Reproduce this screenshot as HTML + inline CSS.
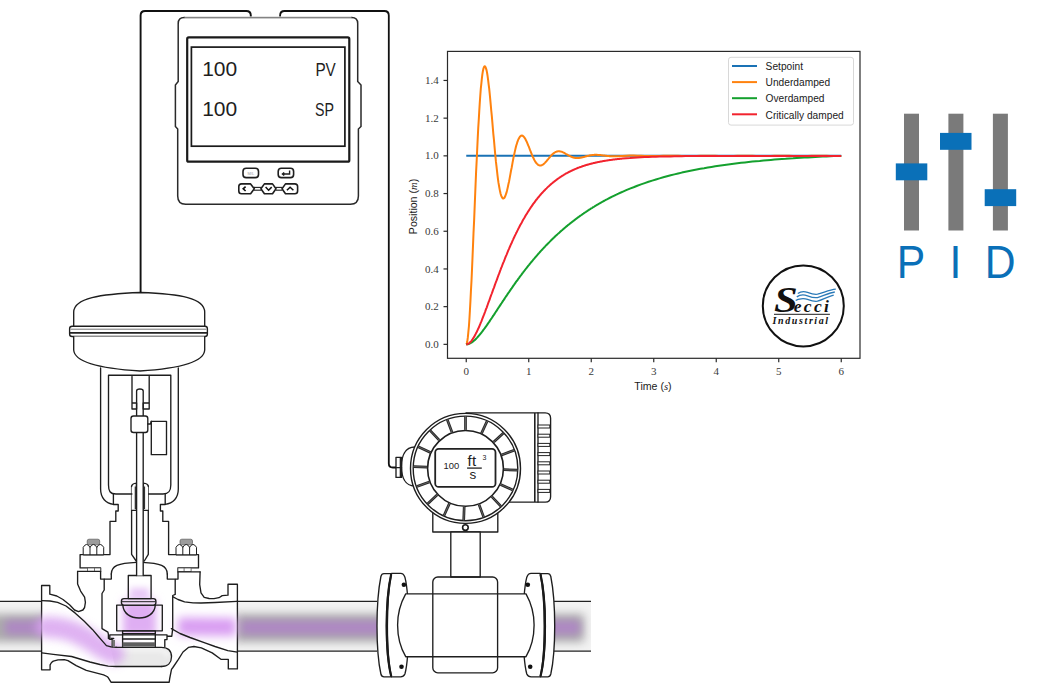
<!DOCTYPE html>
<html><head><meta charset="utf-8"><title>PID control</title>
<style>
html,body{margin:0;padding:0;background:#fff;}
body{width:1038px;height:684px;overflow:hidden;}
svg{display:block;}
.tk{font-family:"Liberation Serif",serif;font-size:11px;fill:#3a3a3a;}
.al{font-family:"Liberation Sans",sans-serif;font-size:10.6px;fill:#1a1a1a;}
.lg{font-family:"Liberation Sans",sans-serif;font-size:11.5px;fill:#1a1a1a;}
.ln{fill:none;stroke:#1e1e1e;stroke-width:1.35;stroke-linejoin:round;stroke-linecap:round;}
</style></head>
<body>
<svg width="1038" height="684" viewBox="0 0 1038 684">
<defs>
<filter id="b3" filterUnits="userSpaceOnUse" x="0" y="0" width="1038" height="684"><feGaussianBlur stdDeviation="3"/></filter>
<filter id="b4" filterUnits="userSpaceOnUse" x="0" y="0" width="1038" height="684"><feGaussianBlur stdDeviation="4"/></filter>
<filter id="b5" filterUnits="userSpaceOnUse" x="0" y="0" width="1038" height="684"><feGaussianBlur stdDeviation="5"/></filter>
<filter id="b2" filterUnits="userSpaceOnUse" x="0" y="0" width="1038" height="684"><feGaussianBlur stdDeviation="2"/></filter>
<clipPath id="cpL"><rect x="0" y="601.5" width="41.6" height="49.8"/></clipPath>
<clipPath id="cpM"><rect x="237" y="601.5" width="141" height="49.6"/></clipPath>
<clipPath id="cpR"><rect x="553" y="601.5" width="38" height="49.6"/></clipPath>
</defs>
<g clip-path="url(#cpL)">
<rect x="0" y="601" width="41.6" height="51" fill="#f3f3f3"/>
<rect x="-12" y="614" width="72" height="28" fill="#ababab" filter="url(#b5)"/>
<rect x="5" y="620.5" width="55" height="14" fill="#ae86c4" filter="url(#b4)"/>
</g>
<g clip-path="url(#cpM)">
<rect x="237" y="601" width="141" height="51" fill="#f3f3f3"/>
<rect x="234" y="614" width="166" height="28" fill="#ababab" filter="url(#b5)"/>
<rect x="241" y="620.5" width="159" height="14" fill="#ae86c4" filter="url(#b4)"/>
</g>
<g clip-path="url(#cpR)">
<rect x="553" y="601" width="38" height="51" fill="#f3f3f3"/>
<rect x="540" y="614" width="44" height="28" fill="#ababab" filter="url(#b5)"/>
<rect x="540" y="620.5" width="40" height="14" fill="#ae86c4" filter="url(#b4)"/>
</g>
<line x1="0" y1="601.3" x2="41.6" y2="601.3" stroke="#222" stroke-width="1.3"/>
<line x1="0" y1="651.2" x2="41.6" y2="651.2" stroke="#222" stroke-width="1.3"/>
<line x1="237" y1="601.3" x2="377" y2="601.3" stroke="#222" stroke-width="1.3"/>
<line x1="237" y1="651.2" x2="377" y2="651.2" stroke="#222" stroke-width="1.3"/>
<line x1="554" y1="601.3" x2="591" y2="601.3" stroke="#222" stroke-width="1.3"/>
<line x1="554" y1="651.2" x2="591" y2="651.2" stroke="#222" stroke-width="1.3"/>
<path d="M77.6,571.4 L77.6,584.1 L80.6,591.1 L84.6,597.2 L85.4,602.4 L84.6,607.5 L82.9,610.0 L78.5,611.6 L74.5,610.0 L69.8,605.0 L63.0,599.5 L56.8,596.0 L49.8,594.2 L49.8,585.5 L41.6,585.5 L41.6,669.8 L50.1,669.8 L50.1,664.8 L51.5,662.5 L53.3,661.1 L58.0,659.9 L64.3,659.7 L68.0,660.7 L76.2,665.7 L86.3,670.3 L103.6,674.8 L107.0,676.5 L108.2,677.6 L111.0,682.2 L169.2,682.2 L169.7,678.5 L171.5,669.4 L172.9,667.5 L178.4,659.3 L183.0,652.0 L188.4,647.4 L193.9,646.5 L201.3,647.8 L212.2,652.9 L220.9,659.3 L228.3,659.3 L228.3,668.9 L237.4,668.9 L237.4,584.2 L228.0,584.2 L228.0,595.2 L222.2,595.6 L219.0,597.7 L214.0,598.6 L209.1,598.5 L204.2,597.3 L201.0,592.8 L199.7,584.6 L200.1,571.9 L178.0,571.9 L178.0,579.0 L100.6,579.0 Z" class="ln" style="fill:#fff;stroke:none"/>
<path d="M77.6,571.4 L77.6,584.1 L80.6,591.1 L84.6,597.2 L85.4,602.4 L84.6,607.5 L82.9,610.0 L78.5,611.6 L74.5,610.0 L69.8,605.0 L63.0,599.5 L56.8,596.0 L49.8,594.2 L49.8,585.5 L41.6,585.5 L41.6,669.8 L50.1,669.8 L50.1,664.8 L51.5,662.5 L53.3,661.1 L58.0,659.9 L64.3,659.7 L68.0,660.7 L76.2,665.7 L86.3,670.3 L103.6,674.8 L107.0,676.5 L108.2,677.6 L111.0,682.2 L169.2,682.2 L169.7,678.5 L171.5,669.4 L172.9,667.5 L178.4,659.3 L183.0,652.0 L188.4,647.4 L193.9,646.5 L201.3,647.8 L212.2,652.9 L220.9,659.3 L228.3,659.3 L228.3,668.9 L237.4,668.9 L237.4,584.2 L228.0,584.2 L228.0,595.2 L222.2,595.6 L219.0,597.7 L214.0,598.6 L209.1,598.5 L204.2,597.3 L201.0,592.8 L199.7,584.6 L200.1,571.9" class="ln" />
<path d="M110.5,646.9 L161.4,646.9 C168,646.9 171,651 171,656.4 C171,662 168,666 161.4,666 L114.8,666 Z" fill="#e9e9e9"/>
<path d="M112,650 L160,650 C166,650 167,654 167,656.4" stroke="#f8f8f8" stroke-width="3" fill="none" filter="url(#b2)"/>
<path d="M46,627 C62,627 75,631 88,639 C98,646 106,651 114,654" stroke="#d9a4f0" stroke-width="21" stroke-linecap="round" fill="none" filter="url(#b5)" opacity="0.85"/>
<path d="M178,626.5 C195,626.5 215,627 236,627" stroke="#d99ef2" stroke-width="18" fill="none" filter="url(#b5)"/>
<rect x="123" y="600" width="33" height="36" fill="#dfaef3" filter="url(#b4)"/>
<rect x="130" y="588" width="19" height="12" fill="#e8c8f6" filter="url(#b3)"/>
<path d="M41.6,600.7 L50.0,601.0 L57.6,602.4 L66.0,606.0 L75.0,612.9 L84.0,621.0 L92.4,629.4 L98.0,636.0 L102.9,641.6 L106.4,645.6 L111.0,646.9 L116.8,647.3" class="ln" />
<path d="M41.9,652.9 L53.3,654.3 L71.6,656.5 L89.9,662.0 L100.0,664.5 L108.2,666.2 L116.0,666.5 L161.4,666.5" class="ln" />
<path d="M116,647.3 L161.4,647.3 C168,647.3 171.5,651 171.5,656.8 C171.5,662.5 168,666.5 161.4,666.5" class="ln"/>
<path d="M173.1,596.9 L178.0,599.5 L184.6,601.8 L193.0,602.8 L201.0,603.0 L215.0,602.5 L236.8,601.3" class="ln" />
<path d="M171.4,628.7 L180.0,633.5 L190.0,637.5 L204.9,642.8 L215.0,646.5 L227.8,650.6 L237.4,652.2" class="ln" />
<path d="M104.2,579.1 L104.2,590.0 L102.0,593.5 L102.0,628.6 L107.9,632.1 L108.4,634.4 L108.4,638.5 L113.7,638.5" class="ln" />
<path d="M175.2,579.4 L175.2,594.4 L172.7,595.5 L172.7,628.6 L171.8,636.2 L164.0,636.2" class="ln" />
<rect x="116.7" y="605.1" width="45.6" height="25.7" class="ln"/>
<path d="M122.8,605.1 C123.5,614 131,618 139.1,618 C147,618 154.7,614 155.3,605.1" class="ln"/>
<rect x="121.4" y="598.6" width="34.5" height="6.5" rx="2.6" class="ln" style="fill:#f1dcf8"/>
<line x1="122.2" y1="601.7" x2="155.2" y2="601.7" class="ln" style="stroke-width:1"/>
<rect x="128.3" y="575.5" width="22.8" height="23.1" class="ln"/>
<rect x="122.6" y="630.8" width="32.7" height="2.9" class="ln"/>
<path d="M109.8,634.8 L167,634.8 L167,639.6 L164.8,639.6 L164.8,646.8 M109.8,634.8 L109.8,639.4 L112.2,639.4 L112.2,646.8 M122.6,633.7 L122.6,646.8 M155.3,633.7 L155.3,646.8 M122.6,639 L155.3,639" class="ln" style="fill:#fff"/>
<rect x="122.6" y="642.3" width="32.7" height="4.3" fill="#5e5e5e"/>
<rect x="112.4" y="640" width="2.6" height="6.6" fill="#777"/>
<path d="M113.4,494.0 L113.4,504.5 L118.2,504.5 L118.2,511.0 L115.8,511.0 L115.8,521.4 L110.0,521.4 L110.0,554.6 L80.1,554.6 L80.1,567.9 L100.6,567.9 L100.6,579.1 L111.3,579.1 L111.3,574.0" class="ln" />
<path d="M165.2,494.0 L165.2,504.5 L160.4,504.5 L160.4,511.0 L162.8,511.0 L162.8,521.4 L168.6,521.4 L168.6,554.6 L198.5,554.6 L198.5,567.9 L178.0,567.9 L178.0,579.1 L167.3,579.1 L167.3,574.0" class="ln" />
<path d="M111.3,574 C111.3,566 118,563 136.4,562.3 M142.2,562.3 C160.6,563 167.3,566 167.3,574" class="ln"/>
<rect x="87.5" y="568" width="13.1" height="3.4" fill="#fff" stroke="#555" stroke-width="0.8"/>
<line x1="94.5" y1="568" x2="94.5" y2="571.4" stroke="#555" stroke-width="0.8"/>
<rect x="178" y="568" width="13.1" height="3.4" fill="#fff" stroke="#555" stroke-width="0.8"/>
<line x1="184.1" y1="568" x2="184.1" y2="571.4" stroke="#555" stroke-width="0.8"/>
<path d="M77.6,571.4 L100.6,571.4" class="ln" />
<path d="M178.0,571.9 L200.1,571.9" class="ln" />
<rect x="87.2" y="539.2" width="12.5" height="5.6" rx="1.8" fill="#9c9c9c" stroke="#5a5a5a" stroke-width="0.7"/>
<path d="M83.2,554.6 L83.2,547.3 Q86.60000000000001,541.6 90.0,547.3 Q93.4,541.6 96.8,547.3 Q100.2,541.6 103.7,547.3 L103.7,554.6 Z M90.0,547.3 L90.0,554.6 M96.8,547.3 L96.8,554.6" class="ln" style="fill:#fff;stroke-width:1"/>
<rect x="180" y="539.2" width="12.5" height="5.6" rx="1.8" fill="#9c9c9c" stroke="#5a5a5a" stroke-width="0.7"/>
<path d="M176,554.6 L176,547.3 Q179.4,541.6 182.8,547.3 Q186.2,541.6 189.6,547.3 Q193,541.6 196.5,547.3 L196.5,554.6 Z M182.8,547.3 L182.8,554.6 M189.6,547.3 L189.6,554.6" class="ln" style="fill:#fff;stroke-width:1"/>
<path d="M131.6,486.0 L131.6,554.3 L136.2,561.0" class="ln" />
<path d="M148.3,486.0 L148.3,554.3 L144.3,561.0" class="ln" />
<path d="M131.6,486.5 Q132,483.6 136.4,483.2 L136.4,510.4 L131.6,510.4 M148.3,486.5 Q148,483.6 143.4,483.2 L143.4,510.4 L148.3,510.4" class="ln" style="fill:#fff"/>
<path d="M135.6,486.5 L135.6,509 M144.2,486.5 L144.2,509" stroke="#333" stroke-width="1.8" fill="none"/>
<path d="M136.6,575.5 L136.6,391 Q136.6,389 139.9,389 Q143.2,389 143.2,391 L143.2,575.5" class="ln" style="fill:#fff"/>
<path d="M132,376.4 L132,409 L136.6,409 L136.6,403 L132,403 M149.2,376.4 L149.2,409 L143.2,409 L143.2,403 L149.2,403" class="ln"/>
<rect x="131" y="416" width="16.8" height="16.5" rx="2.5" class="ln" style="fill:#fff"/>
<path d="M147.8,424 L150.5,424 L151.3,421.3" class="ln"/>
<rect x="151.3" y="421.3" width="15.2" height="33.4" class="ln"/>
<path d="M100.6,368 L100.6,489 C100.6,498 106,503.5 113.4,504.3" class="ln"/>
<path d="M178.3,368 L178.3,489 C178.3,498 173,503.5 165.2,504.3" class="ln"/>
<path d="M108.5,375.2 L170.8,375.2 M108.5,375.2 L108.5,485 C108.5,491 110,494 116,494 L131.9,494 M170.8,375.2 L170.8,485 C170.8,491 169,494 163,494 L148.6,494" class="ln"/>
<path d="M73.7,326 L73.7,312 C74,298 100,294 140.5,292.5 C181,294 204.4,298 204.7,312 L204.7,326" class="ln" style="fill:#fff"/>
<rect x="69.6" y="326.2" width="137.8" height="10.3" rx="2.5" class="ln" style="fill:#fff"/>
<line x1="70.5" y1="329.2" x2="206.5" y2="329.2" stroke="#777" stroke-width="1"/>
<line x1="70" y1="332.9" x2="207" y2="332.9" stroke="#222" stroke-width="1.6"/>
<path d="M73.7,336.6 L73.7,350 C74.5,362 100,368.5 140,371 C180,368.5 204,362 204.7,350 L204.7,336.6" class="ln" style="fill:#fff"/>
<path d="M466,412.9 L545.2,412.9 Q550.6,412.9 550.6,418.3 L550.6,496.7 Q550.6,502.1 545.2,502.1 L505,502.1" class="ln" style="fill:#fff"/>
<line x1="534.8" y1="412.9" x2="534.8" y2="502.1" stroke="#222" stroke-width="1.6"/><line x1="538" y1="412.9" x2="538" y2="502.1" class="ln"/>
<rect x="538" y="425.0" width="11.8" height="3" fill="#fff" stroke="#222" stroke-width="1"/>
<rect x="538" y="434.2" width="11.8" height="3" fill="#fff" stroke="#222" stroke-width="1"/>
<rect x="538" y="443.4" width="11.8" height="3" fill="#fff" stroke="#222" stroke-width="1"/>
<rect x="538" y="452.6" width="11.8" height="3" fill="#fff" stroke="#222" stroke-width="1"/>
<rect x="538" y="461.8" width="11.8" height="3" fill="#fff" stroke="#222" stroke-width="1"/>
<rect x="538" y="471.0" width="11.8" height="3" fill="#fff" stroke="#222" stroke-width="1"/>
<rect x="538" y="480.2" width="11.8" height="3" fill="#fff" stroke="#222" stroke-width="1"/>
<rect x="538" y="489.4" width="11.8" height="3" fill="#fff" stroke="#222" stroke-width="1"/>
<rect x="432.8" y="505" width="65" height="27" class="ln" style="fill:#fff"/>
<rect x="450.8" y="532" width="29.4" height="45" class="ln" style="fill:#fff"/>
<path d="M414.8,447 C405,447 401.5,456 401.5,466.5 C401.5,477 405,486 414.8,486" class="ln" style="fill:#fff"/>
<rect x="396" y="457.3" width="5.5" height="20.1" class="ln" style="fill:#fff"/>
<line x1="396" y1="467.6" x2="401.5" y2="467.6" class="ln"/><line x1="400.5" y1="458" x2="400.5" y2="477" stroke="#222" stroke-width="1.6"/>
<circle cx="465.5" cy="468.4" r="55" class="ln" style="fill:#fff;stroke-width:1.4"/>
<circle cx="465.5" cy="468.4" r="52.3" class="ln" style="stroke-width:1.4" fill="none"/>
<circle cx="465.5" cy="468.4" r="37.9" class="ln" style="stroke-width:1.6"/>
<line x1="465.5" y1="429.9" x2="465.5" y2="416.4" stroke="#262626" stroke-width="2.7"/>
<line x1="465.5" y1="429.9" x2="465.5" y2="416.4" stroke="#8a8a8a" stroke-width="0.6"/>
<line x1="452.0" y1="432.3" x2="447.3" y2="419.7" stroke="#262626" stroke-width="2.7"/>
<line x1="452.0" y1="432.3" x2="447.3" y2="419.7" stroke="#8a8a8a" stroke-width="0.6"/>
<line x1="439.2" y1="440.2" x2="430.0" y2="430.4" stroke="#262626" stroke-width="2.7"/>
<line x1="439.2" y1="440.2" x2="430.0" y2="430.4" stroke="#8a8a8a" stroke-width="0.6"/>
<line x1="430.5" y1="452.4" x2="418.2" y2="446.8" stroke="#262626" stroke-width="2.7"/>
<line x1="430.5" y1="452.4" x2="418.2" y2="446.8" stroke="#8a8a8a" stroke-width="0.6"/>
<line x1="427.0" y1="467.1" x2="413.5" y2="466.6" stroke="#262626" stroke-width="2.7"/>
<line x1="427.0" y1="467.1" x2="413.5" y2="466.6" stroke="#8a8a8a" stroke-width="0.6"/>
<line x1="429.4" y1="481.9" x2="416.8" y2="486.6" stroke="#262626" stroke-width="2.7"/>
<line x1="429.4" y1="481.9" x2="416.8" y2="486.6" stroke="#8a8a8a" stroke-width="0.6"/>
<line x1="437.3" y1="494.7" x2="427.5" y2="503.9" stroke="#262626" stroke-width="2.7"/>
<line x1="437.3" y1="494.7" x2="427.5" y2="503.9" stroke="#8a8a8a" stroke-width="0.6"/>
<line x1="449.5" y1="503.4" x2="443.9" y2="515.7" stroke="#262626" stroke-width="2.7"/>
<line x1="449.5" y1="503.4" x2="443.9" y2="515.7" stroke="#8a8a8a" stroke-width="0.6"/>
<line x1="464.2" y1="506.9" x2="463.7" y2="520.4" stroke="#262626" stroke-width="2.7"/>
<line x1="464.2" y1="506.9" x2="463.7" y2="520.4" stroke="#8a8a8a" stroke-width="0.6"/>
<line x1="479.0" y1="504.5" x2="483.7" y2="517.1" stroke="#262626" stroke-width="2.7"/>
<line x1="479.0" y1="504.5" x2="483.7" y2="517.1" stroke="#8a8a8a" stroke-width="0.6"/>
<line x1="491.8" y1="496.6" x2="501.0" y2="506.4" stroke="#262626" stroke-width="2.7"/>
<line x1="491.8" y1="496.6" x2="501.0" y2="506.4" stroke="#8a8a8a" stroke-width="0.6"/>
<line x1="500.5" y1="484.4" x2="512.8" y2="490.0" stroke="#262626" stroke-width="2.7"/>
<line x1="500.5" y1="484.4" x2="512.8" y2="490.0" stroke="#8a8a8a" stroke-width="0.6"/>
<line x1="504.0" y1="469.7" x2="517.5" y2="470.2" stroke="#262626" stroke-width="2.7"/>
<line x1="504.0" y1="469.7" x2="517.5" y2="470.2" stroke="#8a8a8a" stroke-width="0.6"/>
<line x1="501.6" y1="454.9" x2="514.2" y2="450.2" stroke="#262626" stroke-width="2.7"/>
<line x1="501.6" y1="454.9" x2="514.2" y2="450.2" stroke="#8a8a8a" stroke-width="0.6"/>
<line x1="493.7" y1="442.1" x2="503.5" y2="432.9" stroke="#262626" stroke-width="2.7"/>
<line x1="493.7" y1="442.1" x2="503.5" y2="432.9" stroke="#8a8a8a" stroke-width="0.6"/>
<line x1="481.5" y1="433.4" x2="487.1" y2="421.1" stroke="#262626" stroke-width="2.7"/>
<line x1="481.5" y1="433.4" x2="487.1" y2="421.1" stroke="#8a8a8a" stroke-width="0.6"/>
<rect x="435.2" y="448.9" width="60.3" height="38" rx="3.5" fill="#fff" stroke="#222" stroke-width="1.8"/>
<text x="443.6" y="469.3" font-family="Liberation Sans" font-size="9.4" fill="#222">100</text>
<text x="467.4" y="466.2" font-family="Liberation Sans" font-size="15" letter-spacing="0.5" fill="#222">ft</text>
<line x1="467.1" y1="468.1" x2="481.8" y2="468.1" stroke="#222" stroke-width="1.3"/>
<text x="469.4" y="479" font-family="Liberation Sans" font-size="13.5" fill="#222">s</text>
<text x="482.5" y="459.9" font-family="Liberation Sans" font-size="7" fill="#222">3</text>
<circle cx="465.4" cy="527.6" r="2.8" fill="#fff" stroke="#1a1a1a" stroke-width="1.6"/>
<path d="M384,573.6 Q381.6,573.6 380.9,576.5 C378.2,590 377,610 377,626 C377,642 378.2,662 380.9,674 Q381.6,676.8 384,676.8 L391.2,676.8 C387.4,662 386.3,642 386.3,626 C386.3,610 387.4,590 391.2,573.6 Z" class="ln" style="fill:#fff"/>
<path d="M391.5,573.4 L400.6,573.4 Q403.6,573.4 404.9,577.2 C407.7,588 408.5,608 408.5,626 C408.5,644 407.7,664 404.9,674 Q403.6,676.8 400.6,676.8 L391.5,676.8 C388.2,662 387.4,642 387.4,626 C387.4,610 388.2,590 391.5,573.4 Z" class="ln" style="fill:#fff"/>
<path d="M391.2,574.2 C387.6,590 386.8,610 386.8,626 C386.8,642 387.6,662 391.2,676.2" stroke="#1a1a1a" stroke-width="2.2" fill="none"/>
<path d="M547.7,573.6 Q550.1,573.6 550.8,576.5 C553.5,590 554.7,610 554.7,626 C554.7,642 553.5,662 550.8,674 Q550.1,676.8 547.7,676.8 L540.5,676.8 C544.3,662 545.4,642 545.4,626 C545.4,610 544.3,590 540.5,573.6 Z" class="ln" style="fill:#fff"/>
<path d="M540.2,573.4 L531.1,573.4 Q528.1,573.4 526.8,577.2 C524.0,588 523.2,608 523.2,626 C523.2,644 524.0,664 526.8,674 Q528.1,676.8 531.1,676.8 L540.2,676.8 C543.5,662 544.3,642 544.3,626 C544.3,610 543.5,590 540.2,573.4 Z" class="ln" style="fill:#fff"/>
<path d="M540.5,574.2 C544.1,590 544.9,610 544.9,626 C544.9,642 544.1,662 540.5,676.2" stroke="#1a1a1a" stroke-width="2.2" fill="none"/>
<path d="M405.7,593.9 L526,593.9 C532.2,605 534.1,615 534.1,625 C534.1,636 532.2,646 526,656.7 L405.7,656.7 C399.5,646 397.6,636 397.6,625 C397.6,615 399.5,605 405.7,593.9 Z" class="ln" style="fill:#fff"/>
<rect x="432.8" y="577" width="64.8" height="95.8" rx="5" class="ln"/>
<circle cx="403.9" cy="584.8" r="2.3" fill="#111"/>
<circle cx="401.5" cy="666.8" r="2.3" fill="#111"/>
<circle cx="527.8" cy="584.8" r="2.3" fill="#111"/>
<circle cx="530.2" cy="666.8" r="2.3" fill="#111"/>
<path d="M140.6,292.5 L140.6,15.5 Q140.6,11 145.1,11 L246.3,11 Q250.8,11 250.8,15.5 L250.8,17.5" fill="none" stroke="#111" stroke-width="1.9"/>
<path d="M280.1,17.5 L280.1,15.5 Q280.1,11 284.6,11 L384.3,11 Q388.8,11 388.8,15.5 L388.8,463.5 Q388.8,467.5 392.8,467.5 L396,467.5" fill="none" stroke="#111" stroke-width="1.8"/>
<path d="M184.2,17.4 L351.7,17.4 Q357.7,17.4 357.7,23.4 L357.7,81.5 L361,85 L361,126.5 L358.4,129 L358.4,196 Q358.4,204.2 350.4,204.2 L185.7,204.2 Q177.7,204.2 177.7,196 L177.7,129 L175.4,126.5 L175.4,85 L178.2,81.5 L178.2,23.4 Q178.2,17.4 184.2,17.4 Z" fill="#fff" stroke="#2a2a2a" stroke-width="1.5"/>
<line x1="185" y1="17.4" x2="351" y2="17.4" stroke="#fff" stroke-width="1.8"/><line x1="184" y1="17.6" x2="352" y2="17.6" stroke="#666" stroke-width="0.9"/>
<rect x="187.2" y="37.4" width="162.1" height="124.3" rx="1.5" fill="#fff" stroke="#1a1a1a" stroke-width="2.2"/>
<rect x="191.4" y="47.1" width="153.5" height="99.1" fill="#fff" stroke="#1a1a1a" stroke-width="1.7"/>
<text x="202.2" y="76.4" font-family="Liberation Sans" font-size="21" fill="#1e1e1e">100</text>
<text x="202.2" y="116" font-family="Liberation Sans" font-size="21" fill="#1e1e1e">100</text>
<text transform="translate(335.8,76.1) scale(0.85,1)" text-anchor="end" font-family="Liberation Sans" font-size="18" fill="#1e1e1e">PV</text>
<text transform="translate(334,115.7) scale(0.79,1)" text-anchor="end" font-family="Liberation Sans" font-size="18" fill="#1e1e1e">SP</text>
<rect x="243" y="168.3" width="15.5" height="9.3" rx="3.2" fill="#fff" stroke="#1e1e1e" stroke-width="1.6" stroke-linejoin="round"/>
<rect x="278.2" y="168.3" width="15.4" height="9.3" rx="3.2" fill="#fff" stroke="#1e1e1e" stroke-width="1.6" stroke-linejoin="round"/>
<text x="250.8" y="174.6" text-anchor="middle" font-family="Liberation Sans" font-size="4" fill="#999">M/L</text>
<path d="M289.6,170.4 L289.6,174 L282.6,174 M284.2,172.4 L282.4,174 L284.2,175.6" fill="none" stroke="#1e1e1e" stroke-width="1.4"/>
<line x1="254" y1="187.4" x2="261.3" y2="187.4" stroke="#1e1e1e" stroke-width="1.1"/>
<line x1="254" y1="190.2" x2="261.3" y2="190.2" stroke="#1e1e1e" stroke-width="1.1"/>
<line x1="275.8" y1="187.4" x2="282.2" y2="187.4" stroke="#1e1e1e" stroke-width="1.1"/>
<line x1="275.8" y1="190.2" x2="282.2" y2="190.2" stroke="#1e1e1e" stroke-width="1.1"/>
<path d="M241.5,183.9 L250.6,183.9 L254.3,188.8 L250.6,193.7 L241.5,193.7 Q238.8,193.7 238.8,191 L238.8,186.6 Q238.8,183.9 241.5,183.9 Z" fill="#fff" stroke="#1e1e1e" stroke-width="1.6" stroke-linejoin="round"/>
<path d="M264.4,183.9 L272.5,183.9 L276,188.8 L272.5,193.7 L264.4,193.7 L260.9,188.8 Z" fill="#fff" stroke="#1e1e1e" stroke-width="1.6" stroke-linejoin="round"/>
<path d="M285.5,183.9 L294.8,183.9 Q297.6,183.9 297.6,186.6 L297.6,191 Q297.6,193.7 294.8,193.7 L285.5,193.7 L282,188.8 Z" fill="#fff" stroke="#1e1e1e" stroke-width="1.6" stroke-linejoin="round"/>
<path d="M245.6,186.6 L243.2,188.8 L245.6,191" fill="none" stroke="#111" stroke-width="1.6"/>
<path d="M265.6,187.1 L268.6,190.2 L271.7,187.1" fill="none" stroke="#111" stroke-width="1.5"/>
<path d="M286.9,190.3 L290.1,187.2 L293.4,190.3" fill="none" stroke="#111" stroke-width="1.5"/>
<path d="M466.25,155.85 L841.25,155.85" stroke="#1a72b5" stroke-width="2" fill="none"/>
<path d="M466.2,344.4 466.8,343.6 467.3,341.3 467.8,337.7 468.3,332.7 468.9,326.5 469.4,319.2 469.9,310.8 470.4,301.6 470.9,291.5 471.5,280.8 472.0,269.5 472.5,257.7 473.0,245.6 473.5,233.3 474.1,220.9 474.6,208.4 475.1,196.0 475.6,183.8 476.1,171.9 476.7,160.3 477.2,149.2 477.7,138.6 478.2,128.6 478.8,119.1 479.3,110.4 479.8,102.4 480.3,95.2 480.8,88.7 481.4,83.1 481.9,78.2 482.4,74.2 482.9,71.0 483.4,68.7 484.0,67.1 484.5,66.3 485.0,66.3 485.5,67.0 486.0,68.4 486.6,70.4 487.1,73.0 487.6,76.2 488.1,79.9 488.6,84.1 489.2,88.7 489.7,93.6 490.2,98.9 490.7,104.3 491.2,110.0 491.8,115.8 492.3,121.7 492.8,127.7 493.3,133.6 493.9,139.4 494.4,145.2 494.9,150.8 495.4,156.2 495.9,161.4 496.5,166.3 497.0,170.9 497.5,175.3 498.0,179.3 498.5,182.9 499.1,186.2 499.6,189.1 500.1,191.6 500.6,193.7 501.1,195.4 501.7,196.8 502.2,197.7 502.7,198.3 503.2,198.5 503.8,198.3 504.3,197.9 504.8,197.1 505.3,196.0 505.8,194.6 506.4,192.9 506.9,191.1 507.4,189.0 507.9,186.7 508.4,184.3 509.0,181.8 509.5,179.1 510.0,176.4 510.5,173.6 511.0,170.8 511.6,168.0 512.1,165.2 512.6,162.4 513.1,159.7 513.6,157.1 514.2,154.5 514.7,152.1 515.2,149.9 515.7,147.7 516.2,145.7 516.8,143.9 517.3,142.2 517.8,140.8 518.3,139.5 518.9,138.4 519.4,137.5 519.9,136.7 520.4,136.2 520.9,135.8 521.5,135.6 522.0,135.6 522.5,135.7 523.0,136.0 523.5,136.5 524.1,137.1 524.6,137.8 525.1,138.6 525.6,139.5 526.1,140.6 526.7,141.7 527.2,142.9 527.7,144.1 528.2,145.4 528.8,146.7 529.3,148.0 529.8,149.4 530.3,150.7 530.8,152.0 531.4,153.3 531.9,154.6 532.4,155.8 532.9,157.0 533.4,158.1 534.0,159.2 534.5,160.2 535.0,161.1 535.5,161.9 536.0,162.7 536.6,163.3 537.1,163.9 537.6,164.4 538.1,164.8 538.6,165.1 539.2,165.3 539.7,165.4 540.2,165.5 540.7,165.5 541.2,165.4 541.8,165.2 542.3,164.9 542.8,164.6 543.3,164.3 543.9,163.9 544.4,163.4 544.9,162.9 545.4,162.3 545.9,161.8 546.5,161.2 547.0,160.5 547.5,159.9 548.0,159.3 548.5,158.6 549.1,158.0 549.6,157.4 550.1,156.8 550.6,156.2 551.1,155.6 551.7,155.1 552.2,154.5 552.7,154.0 553.2,153.6 553.8,153.2 554.3,152.8 554.8,152.5 555.3,152.2 555.8,151.9 556.4,151.7 556.9,151.5 557.4,151.4 557.9,151.3 558.4,151.3 559.0,151.3 559.5,151.3 560.0,151.4 560.5,151.5 561.0,151.6 561.6,151.7 562.1,151.9 562.6,152.1 563.1,152.4 563.6,152.6 564.2,152.9 564.7,153.2 565.2,153.5 565.7,153.8 566.2,154.1 566.8,154.4 567.3,154.7 567.8,155.0 568.3,155.3 568.9,155.5 569.4,155.8 569.9,156.1 570.4,156.3 570.9,156.6 571.5,156.8 572.0,157.0 572.5,157.2 573.0,157.4 573.5,157.5 574.1,157.7 574.6,157.8 575.1,157.9 575.6,157.9 576.1,158.0 576.7,158.0 577.2,158.0 577.7,158.0 578.2,158.0 578.8,158.0 579.3,157.9 579.8,157.8 580.3,157.8 580.8,157.7 581.4,157.6 581.9,157.4 582.4,157.3 582.9,157.2 583.4,157.1 584.0,156.9 584.5,156.8 585.0,156.6 585.5,156.5 586.0,156.3 586.6,156.2 587.1,156.1 587.6,155.9 588.1,155.8 588.6,155.7 589.2,155.6 589.7,155.5 590.2,155.3 590.7,155.3 591.2,155.2 591.8,155.1 592.3,155.0 592.8,155.0 593.3,154.9 593.9,154.9 594.4,154.8 594.9,154.8 595.4,154.8 595.9,154.8 596.5,154.8 597.0,154.8 597.5,154.9 598.0,154.9 598.5,154.9 599.1,155.0 599.6,155.0 600.1,155.1 600.6,155.1 601.1,155.2 601.7,155.2 602.2,155.3 602.7,155.4 603.2,155.4 603.8,155.5 604.3,155.6 604.8,155.6 605.3,155.7 605.8,155.8 606.4,155.8 606.9,155.9 607.4,156.0 607.9,156.0 608.4,156.1 609.0,156.1 609.5,156.2 610.0,156.2 610.5,156.2 611.0,156.3 611.6,156.3 612.1,156.3 612.6,156.3 613.1,156.3 613.6,156.3 614.2,156.3 614.7,156.3 615.2,156.3 615.7,156.3 616.2,156.3 616.8,156.3 617.3,156.3 617.8,156.3 618.3,156.2 618.9,156.2 619.4,156.2 619.9,156.2 620.4,156.1 620.9,156.1 621.5,156.1 622.0,156.0 622.5,156.0 626.2,155.8 629.9,155.6 633.6,155.6 637.3,155.7 641.0,155.8 644.7,155.9 648.5,155.9 652.2,156.0 655.9,155.9 659.6,155.9 663.3,155.8 667.0,155.8 670.7,155.8 674.4,155.8 678.1,155.8 681.8,155.9 685.5,155.9 689.2,155.9 692.9,155.9 696.7,155.9 700.4,155.8 704.1,155.8 707.8,155.8 711.5,155.8 715.2,155.8 718.9,155.9 722.6,155.9 726.3,155.9 730.0,155.9 733.7,155.9 737.4,155.8 741.1,155.8 744.9,155.8 748.6,155.8 752.3,155.8 756.0,155.9 759.7,155.9 763.4,155.9 767.1,155.9 770.8,155.9 774.5,155.8 778.2,155.8 781.9,155.8 785.6,155.8 789.3,155.8 793.1,155.9 796.8,155.9 800.5,155.9 804.2,155.9 807.9,155.9 811.6,155.8 815.3,155.8 819.0,155.8 822.7,155.8 826.4,155.8 830.1,155.9 833.8,155.9 837.5,155.9 841.2,155.9" stroke="#ff820e" stroke-width="2" fill="none" stroke-linejoin="round"/>
<path d="M466.2,344.4 466.8,344.3 467.3,344.3 467.8,344.2 468.3,344.0 468.9,343.9 469.4,343.7 469.9,343.4 470.4,343.2 470.9,342.9 471.5,342.6 472.0,342.2 472.5,341.9 473.0,341.5 473.5,341.1 474.1,340.6 474.6,340.2 475.1,339.7 475.6,339.2 476.1,338.7 476.7,338.1 477.2,337.6 477.7,337.0 478.2,336.4 478.8,335.8 479.3,335.2 479.8,334.6 480.3,334.0 480.8,333.3 481.4,332.7 481.9,332.0 482.4,331.3 482.9,330.6 483.4,329.9 484.0,329.2 484.5,328.5 485.0,327.8 485.5,327.1 486.0,326.4 486.6,325.6 487.1,324.9 487.6,324.1 488.1,323.4 488.6,322.6 489.2,321.9 489.7,321.1 490.2,320.3 490.7,319.5 491.2,318.8 491.8,318.0 492.3,317.2 492.8,316.4 493.3,315.6 493.9,314.9 494.4,314.1 494.9,313.3 495.4,312.5 495.9,311.7 496.5,310.9 497.0,310.1 497.5,309.3 498.0,308.5 498.5,307.7 499.1,306.9 499.6,306.2 500.1,305.4 500.6,304.6 501.1,303.8 501.7,303.0 502.2,302.2 502.7,301.4 503.2,300.6 503.8,299.9 504.3,299.1 504.8,298.3 505.3,297.5 505.8,296.7 506.4,296.0 506.9,295.2 507.4,294.4 507.9,293.7 508.4,292.9 509.0,292.1 509.5,291.4 510.0,290.6 510.5,289.9 511.0,289.1 511.6,288.3 512.1,287.6 512.6,286.9 513.1,286.1 513.6,285.4 514.2,284.6 514.7,283.9 515.2,283.2 515.7,282.4 516.2,281.7 516.8,281.0 517.3,280.3 517.8,279.6 518.3,278.8 518.9,278.1 519.4,277.4 519.9,276.7 520.4,276.0 520.9,275.3 521.5,274.6 522.0,273.9 522.5,273.2 523.0,272.6 523.5,271.9 524.1,271.2 524.6,270.5 525.1,269.8 525.6,269.2 526.1,268.5 526.7,267.9 527.2,267.2 527.7,266.5 528.2,265.9 528.8,265.2 529.3,264.6 529.8,263.9 530.3,263.3 530.8,262.7 531.4,262.0 531.9,261.4 532.4,260.8 532.9,260.2 533.4,259.5 534.0,258.9 534.5,258.3 535.0,257.7 535.5,257.1 536.0,256.5 536.6,255.9 537.1,255.3 537.6,254.7 538.1,254.1 538.6,253.5 539.2,252.9 539.7,252.3 540.2,251.8 540.7,251.2 541.2,250.6 541.8,250.0 542.3,249.5 542.8,248.9 543.3,248.4 543.9,247.8 544.4,247.2 544.9,246.7 545.4,246.1 545.9,245.6 546.5,245.1 547.0,244.5 547.5,244.0 548.0,243.5 548.5,242.9 549.1,242.4 549.6,241.9 550.1,241.4 550.6,240.8 551.1,240.3 551.7,239.8 552.2,239.3 552.7,238.8 553.2,238.3 553.8,237.8 554.3,237.3 554.8,236.8 555.3,236.3 555.8,235.8 556.4,235.3 556.9,234.9 557.4,234.4 557.9,233.9 558.4,233.4 559.0,232.9 559.5,232.5 560.0,232.0 560.5,231.5 561.0,231.1 561.6,230.6 562.1,230.2 562.6,229.7 563.1,229.3 563.6,228.8 564.2,228.4 564.7,227.9 565.2,227.5 565.7,227.0 566.2,226.6 566.8,226.2 567.3,225.7 567.8,225.3 568.3,224.9 568.9,224.5 569.4,224.0 569.9,223.6 570.4,223.2 570.9,222.8 571.5,222.4 572.0,222.0 572.5,221.6 573.0,221.2 573.5,220.8 574.1,220.4 574.6,220.0 575.1,219.6 575.6,219.2 576.1,218.8 576.7,218.4 577.2,218.0 577.7,217.6 578.2,217.2 578.8,216.9 579.3,216.5 579.8,216.1 580.3,215.7 580.8,215.4 581.4,215.0 581.9,214.6 582.4,214.3 582.9,213.9 583.4,213.6 584.0,213.2 584.5,212.8 585.0,212.5 585.5,212.1 586.0,211.8 586.6,211.4 587.1,211.1 587.6,210.8 588.1,210.4 588.6,210.1 589.2,209.7 589.7,209.4 590.2,209.1 590.7,208.7 591.2,208.4 591.8,208.1 592.3,207.8 592.8,207.4 593.3,207.1 593.9,206.8 594.4,206.5 594.9,206.2 595.4,205.8 595.9,205.5 596.5,205.2 597.0,204.9 597.5,204.6 598.0,204.3 598.5,204.0 599.1,203.7 599.6,203.4 600.1,203.1 600.6,202.8 601.1,202.5 601.7,202.2 602.2,201.9 602.7,201.6 603.2,201.3 603.8,201.0 604.3,200.8 604.8,200.5 605.3,200.2 605.8,199.9 606.4,199.6 606.9,199.4 607.4,199.1 607.9,198.8 608.4,198.5 609.0,198.3 609.5,198.0 610.0,197.7 610.5,197.5 611.0,197.2 611.6,197.0 612.1,196.7 612.6,196.4 613.1,196.2 613.6,195.9 614.2,195.7 614.7,195.4 615.2,195.2 615.7,194.9 616.2,194.7 616.8,194.4 617.3,194.2 617.8,193.9 618.3,193.7 618.9,193.4 619.4,193.2 619.9,193.0 620.4,192.7 620.9,192.5 621.5,192.3 622.0,192.0 622.5,191.8 626.2,190.2 629.9,188.6 633.6,187.2 637.3,185.7 641.0,184.4 644.7,183.1 648.5,181.8 652.2,180.6 655.9,179.5 659.6,178.4 663.3,177.3 667.0,176.3 670.7,175.3 674.4,174.4 678.1,173.5 681.8,172.6 685.5,171.8 689.2,171.0 692.9,170.2 696.7,169.5 700.4,168.8 704.1,168.2 707.8,167.5 711.5,166.9 715.2,166.3 718.9,165.7 722.6,165.2 726.3,164.7 730.0,164.2 733.7,163.7 737.4,163.2 741.1,162.8 744.9,162.4 748.6,162.0 752.3,161.6 756.0,161.2 759.7,160.9 763.4,160.5 767.1,160.2 770.8,159.9 774.5,159.6 778.2,159.3 781.9,159.0 785.6,158.8 789.3,158.5 793.1,158.3 796.8,158.0 800.5,157.8 804.2,157.6 807.9,157.4 811.6,157.2 815.3,157.0 819.0,156.8 822.7,156.6 826.4,156.5 830.1,156.3 833.8,156.1 837.5,156.0 841.2,155.9" stroke="#14a02e" stroke-width="2" fill="none" stroke-linejoin="round"/>
<path d="M466.2,344.4 466.8,344.3 467.3,344.2 467.8,344.0 468.3,343.7 468.9,343.4 469.4,343.0 469.9,342.6 470.4,342.0 470.9,341.5 471.5,340.8 472.0,340.1 472.5,339.4 473.0,338.6 473.5,337.8 474.1,336.9 474.6,336.0 475.1,335.1 475.6,334.1 476.1,333.1 476.7,332.0 477.2,330.9 477.7,329.8 478.2,328.7 478.8,327.5 479.3,326.3 479.8,325.1 480.3,323.9 480.8,322.6 481.4,321.3 481.9,320.0 482.4,318.7 482.9,317.4 483.4,316.1 484.0,314.7 484.5,313.3 485.0,312.0 485.5,310.6 486.0,309.2 486.6,307.8 487.1,306.4 487.6,305.0 488.1,303.5 488.6,302.1 489.2,300.7 489.7,299.3 490.2,297.8 490.7,296.4 491.2,295.0 491.8,293.5 492.3,292.1 492.8,290.7 493.3,289.2 493.9,287.8 494.4,286.4 494.9,284.9 495.4,283.5 495.9,282.1 496.5,280.7 497.0,279.3 497.5,277.9 498.0,276.5 498.5,275.1 499.1,273.7 499.6,272.3 500.1,270.9 500.6,269.6 501.1,268.2 501.7,266.9 502.2,265.5 502.7,264.2 503.2,262.9 503.8,261.6 504.3,260.3 504.8,259.0 505.3,257.7 505.8,256.4 506.4,255.1 506.9,253.9 507.4,252.6 507.9,251.4 508.4,250.2 509.0,248.9 509.5,247.7 510.0,246.5 510.5,245.3 511.0,244.2 511.6,243.0 512.1,241.8 512.6,240.7 513.1,239.6 513.6,238.4 514.2,237.3 514.7,236.2 515.2,235.1 515.7,234.1 516.2,233.0 516.8,231.9 517.3,230.9 517.8,229.9 518.3,228.8 518.9,227.8 519.4,226.8 519.9,225.8 520.4,224.8 520.9,223.9 521.5,222.9 522.0,222.0 522.5,221.0 523.0,220.1 523.5,219.2 524.1,218.3 524.6,217.4 525.1,216.5 525.6,215.6 526.1,214.8 526.7,213.9 527.2,213.1 527.7,212.2 528.2,211.4 528.8,210.6 529.3,209.8 529.8,209.0 530.3,208.2 530.8,207.4 531.4,206.7 531.9,205.9 532.4,205.2 532.9,204.4 533.4,203.7 534.0,203.0 534.5,202.3 535.0,201.6 535.5,200.9 536.0,200.2 536.6,199.5 537.1,198.9 537.6,198.2 538.1,197.6 538.6,197.0 539.2,196.3 539.7,195.7 540.2,195.1 540.7,194.5 541.2,193.9 541.8,193.3 542.3,192.7 542.8,192.2 543.3,191.6 543.9,191.0 544.4,190.5 544.9,190.0 545.4,189.4 545.9,188.9 546.5,188.4 547.0,187.9 547.5,187.4 548.0,186.9 548.5,186.4 549.1,185.9 549.6,185.4 550.1,185.0 550.6,184.5 551.1,184.1 551.7,183.6 552.2,183.2 552.7,182.7 553.2,182.3 553.8,181.9 554.3,181.5 554.8,181.1 555.3,180.7 555.8,180.3 556.4,179.9 556.9,179.5 557.4,179.1 557.9,178.7 558.4,178.4 559.0,178.0 559.5,177.6 560.0,177.3 560.5,176.9 561.0,176.6 561.6,176.3 562.1,175.9 562.6,175.6 563.1,175.3 563.6,175.0 564.2,174.6 564.7,174.3 565.2,174.0 565.7,173.7 566.2,173.4 566.8,173.2 567.3,172.9 567.8,172.6 568.3,172.3 568.9,172.0 569.4,171.8 569.9,171.5 570.4,171.3 570.9,171.0 571.5,170.8 572.0,170.5 572.5,170.3 573.0,170.0 573.5,169.8 574.1,169.6 574.6,169.3 575.1,169.1 575.6,168.9 576.1,168.7 576.7,168.4 577.2,168.2 577.7,168.0 578.2,167.8 578.8,167.6 579.3,167.4 579.8,167.2 580.3,167.0 580.8,166.9 581.4,166.7 581.9,166.5 582.4,166.3 582.9,166.1 583.4,166.0 584.0,165.8 584.5,165.6 585.0,165.5 585.5,165.3 586.0,165.1 586.6,165.0 587.1,164.8 587.6,164.7 588.1,164.5 588.6,164.4 589.2,164.2 589.7,164.1 590.2,163.9 590.7,163.8 591.2,163.7 591.8,163.5 592.3,163.4 592.8,163.3 593.3,163.1 593.9,163.0 594.4,162.9 594.9,162.8 595.4,162.7 595.9,162.5 596.5,162.4 597.0,162.3 597.5,162.2 598.0,162.1 598.5,162.0 599.1,161.9 599.6,161.8 600.1,161.7 600.6,161.6 601.1,161.5 601.7,161.4 602.2,161.3 602.7,161.2 603.2,161.1 603.8,161.0 604.3,160.9 604.8,160.8 605.3,160.7 605.8,160.7 606.4,160.6 606.9,160.5 607.4,160.4 607.9,160.3 608.4,160.2 609.0,160.2 609.5,160.1 610.0,160.0 610.5,159.9 611.0,159.9 611.6,159.8 612.1,159.7 612.6,159.7 613.1,159.6 613.6,159.5 614.2,159.5 614.7,159.4 615.2,159.3 615.7,159.3 616.2,159.2 616.8,159.2 617.3,159.1 617.8,159.0 618.3,159.0 618.9,158.9 619.4,158.9 619.9,158.8 620.4,158.8 620.9,158.7 621.5,158.7 622.0,158.6 622.5,158.6 626.2,158.2 629.9,158.0 633.6,157.7 637.3,157.5 641.0,157.3 644.7,157.1 648.5,157.0 652.2,156.8 655.9,156.7 659.6,156.6 663.3,156.5 667.0,156.4 670.7,156.4 674.4,156.3 678.1,156.2 681.8,156.2 685.5,156.1 689.2,156.1 692.9,156.1 696.7,156.1 700.4,156.0 704.1,156.0 707.8,156.0 711.5,156.0 715.2,156.0 718.9,155.9 722.6,155.9 726.3,155.9 730.0,155.9 733.7,155.9 737.4,155.9 741.1,155.9 744.9,155.9 748.6,155.9 752.3,155.9 756.0,155.9 759.7,155.9 763.4,155.9 767.1,155.9 770.8,155.9 774.5,155.9 778.2,155.9 781.9,155.9 785.6,155.9 789.3,155.9 793.1,155.9 796.8,155.9 800.5,155.9 804.2,155.9 807.9,155.9 811.6,155.9 815.3,155.9 819.0,155.9 822.7,155.9 826.4,155.9 830.1,155.9 833.8,155.9 837.5,155.9 841.2,155.9" stroke="#f2232e" stroke-width="2" fill="none" stroke-linejoin="round"/>
<rect x="447.5" y="51.4" width="412.5" height="306.90000000000003" fill="none" stroke="#2a2a2a" stroke-width="1.2"/>
<line x1="443.5" y1="344.35" x2="447.5" y2="344.35" stroke="#2a2a2a" stroke-width="1.2"/>
<text x="438.8" y="347.95" text-anchor="end" class="tk">0.0</text>
<line x1="443.5" y1="306.65" x2="447.5" y2="306.65" stroke="#2a2a2a" stroke-width="1.2"/>
<text x="438.8" y="310.25" text-anchor="end" class="tk">0.2</text>
<line x1="443.5" y1="268.95" x2="447.5" y2="268.95" stroke="#2a2a2a" stroke-width="1.2"/>
<text x="438.8" y="272.55" text-anchor="end" class="tk">0.4</text>
<line x1="443.5" y1="231.25" x2="447.5" y2="231.25" stroke="#2a2a2a" stroke-width="1.2"/>
<text x="438.8" y="234.85" text-anchor="end" class="tk">0.6</text>
<line x1="443.5" y1="193.55" x2="447.5" y2="193.55" stroke="#2a2a2a" stroke-width="1.2"/>
<text x="438.8" y="197.15" text-anchor="end" class="tk">0.8</text>
<line x1="443.5" y1="155.85" x2="447.5" y2="155.85" stroke="#2a2a2a" stroke-width="1.2"/>
<text x="438.8" y="159.45" text-anchor="end" class="tk">1.0</text>
<line x1="443.5" y1="118.15" x2="447.5" y2="118.15" stroke="#2a2a2a" stroke-width="1.2"/>
<text x="438.8" y="121.75" text-anchor="end" class="tk">1.2</text>
<line x1="443.5" y1="80.45" x2="447.5" y2="80.45" stroke="#2a2a2a" stroke-width="1.2"/>
<text x="438.8" y="84.05" text-anchor="end" class="tk">1.4</text>
<line x1="466.25" y1="358.3" x2="466.25" y2="362.3" stroke="#2a2a2a" stroke-width="1.2"/>
<text x="466.25" y="374.8" text-anchor="middle" class="tk">0</text>
<line x1="528.75" y1="358.3" x2="528.75" y2="362.3" stroke="#2a2a2a" stroke-width="1.2"/>
<text x="528.75" y="374.8" text-anchor="middle" class="tk">1</text>
<line x1="591.25" y1="358.3" x2="591.25" y2="362.3" stroke="#2a2a2a" stroke-width="1.2"/>
<text x="591.25" y="374.8" text-anchor="middle" class="tk">2</text>
<line x1="653.75" y1="358.3" x2="653.75" y2="362.3" stroke="#2a2a2a" stroke-width="1.2"/>
<text x="653.75" y="374.8" text-anchor="middle" class="tk">3</text>
<line x1="716.25" y1="358.3" x2="716.25" y2="362.3" stroke="#2a2a2a" stroke-width="1.2"/>
<text x="716.25" y="374.8" text-anchor="middle" class="tk">4</text>
<line x1="778.75" y1="358.3" x2="778.75" y2="362.3" stroke="#2a2a2a" stroke-width="1.2"/>
<text x="778.75" y="374.8" text-anchor="middle" class="tk">5</text>
<line x1="841.25" y1="358.3" x2="841.25" y2="362.3" stroke="#2a2a2a" stroke-width="1.2"/>
<text x="841.25" y="374.8" text-anchor="middle" class="tk">6</text>
<text x="653" y="390.3" text-anchor="middle" class="al">Time (<tspan font-family="Liberation Serif" font-style="italic">s</tspan>)</text>
<text transform="translate(417.3,206.5) rotate(-90)" text-anchor="middle" class="al">Position (<tspan font-family="Liberation Serif" font-style="italic">m</tspan>)</text>
<rect x="728.5" y="57.3" width="125" height="67.8" rx="2.5" fill="#fff" fill-opacity="0.8" stroke="#d8d8d8" stroke-width="1"/>
<line x1="732" y1="66.00" x2="757" y2="66.00" stroke="#1a72b5" stroke-width="2"/>
<text transform="translate(765.6,70.25) scale(0.886,1)" class="lg">Setpoint</text>
<line x1="732" y1="82.10" x2="757" y2="82.10" stroke="#ff820e" stroke-width="2"/>
<text transform="translate(765.6,86.35) scale(0.886,1)" class="lg">Underdamped</text>
<line x1="732" y1="98.20" x2="757" y2="98.20" stroke="#14a02e" stroke-width="2"/>
<text transform="translate(765.6,102.45) scale(0.886,1)" class="lg">Overdamped</text>
<line x1="732" y1="114.30" x2="757" y2="114.30" stroke="#f2232e" stroke-width="2"/>
<text transform="translate(765.6,118.55) scale(0.886,1)" class="lg">Critically damped</text>
<circle cx="803.3" cy="305.9" r="40.5" fill="#fff" stroke="#111" stroke-width="2"/>
<text transform="translate(774,312.1) scale(1.22,1)" font-family="Liberation Serif" font-style="italic" font-weight="bold" font-size="35" fill="#111">S</text>
<text x="793.8" y="312.1" font-family="Liberation Serif" font-style="italic" font-weight="bold" font-size="17.5" letter-spacing="2.3" fill="#111">ecci</text>
<path d="M797.8,293.5 C800.5,291.6 804.0,291.2 807.5,292.4 C811.0,293.7 814.0,294.8 817.5,294.2 C823.0,293.0 829.0,289.8 835.8,289.1" fill="none" stroke="#2a7ab8" stroke-width="1.3"/>
<path d="M796.8,296.9 C799.5,295.0 804.0,294.6 807.5,295.8 C811.0,297.1 814.0,298.2 817.5,297.6 C823.0,296.1 829.0,292.9 834.8,292.0" fill="none" stroke="#2a7ab8" stroke-width="1.3"/>
<path d="M795.7,300.5 C798.4,298.6 804.0,298.2 807.5,299.4 C811.0,300.7 814.0,301.8 817.5,301.2 C823.0,299.3 829.0,296.1 833.7,295.1" fill="none" stroke="#2a7ab8" stroke-width="1.3"/>
<line x1="774" y1="314.4" x2="829.9" y2="314.4" stroke="#4a4a4a" stroke-width="1.4"/>
<text x="772.6" y="323.8" font-family="Liberation Serif" font-style="italic" font-weight="bold" font-size="10" letter-spacing="1.6" fill="#111">Industrial</text>
<rect x="904" y="113.7" width="15" height="116.8" fill="#7a7a7a"/>
<rect x="948.4" y="113.7" width="15" height="116.8" fill="#7a7a7a"/>
<rect x="992.9" y="113.7" width="15" height="116.8" fill="#7a7a7a"/>
<rect x="895.8" y="163.4" width="31.5" height="16.9" fill="#0a70b8"/>
<rect x="940" y="132.9" width="31.5" height="16.9" fill="#0a70b8"/>
<rect x="984.7" y="189.2" width="31.5" height="16.9" fill="#0a70b8"/>
<text transform="translate(896.8,277.8) scale(0.94,1)" font-family="Liberation Sans" font-size="45.4" fill="#0a70b8">P</text>
<text transform="translate(949.4,277.8) scale(0.94,1)" font-family="Liberation Sans" font-size="45.4" fill="#0a70b8">I</text>
<text transform="translate(984.8,277.8) scale(0.94,1)" font-family="Liberation Sans" font-size="45.4" fill="#0a70b8">D</text>
</svg>
</body></html>
